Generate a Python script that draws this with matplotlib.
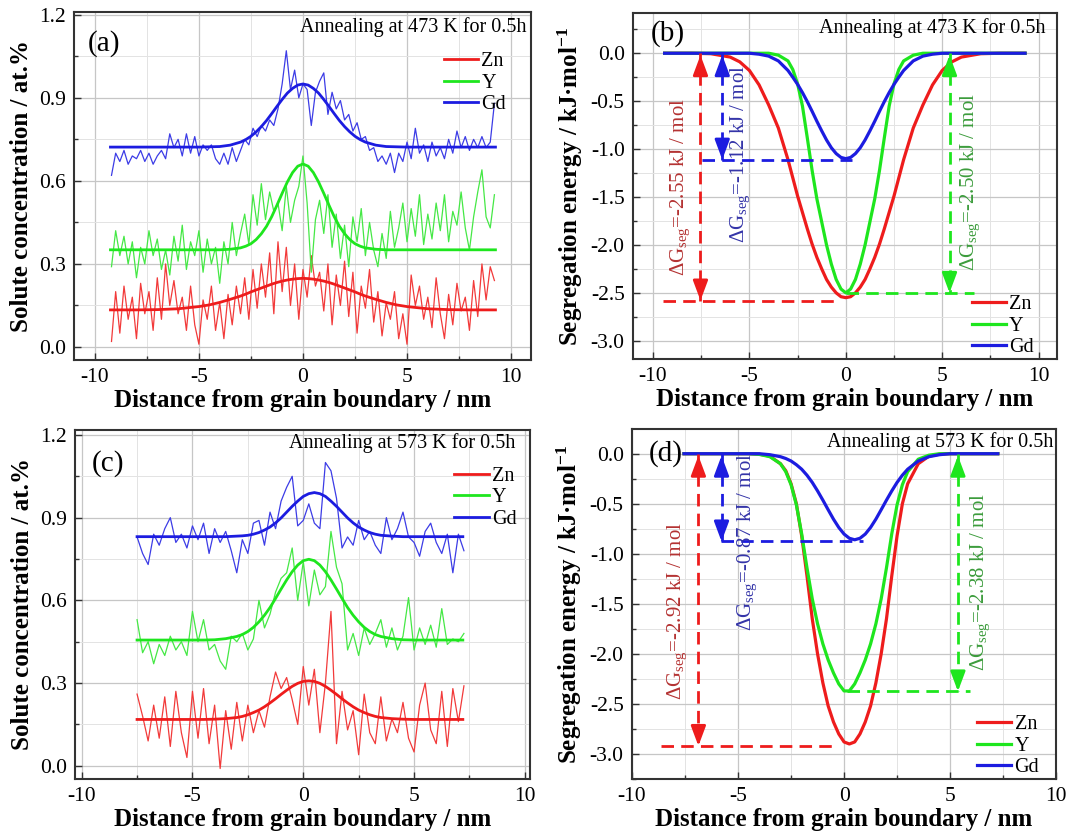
import numpy as np
import matplotlib
matplotlib.use('Agg')
import matplotlib.pyplot as plt
from matplotlib.ticker import MultipleLocator

plt.rcParams['font.family'] = ['Liberation Serif', 'DejaVu Serif']
plt.rcParams['mathtext.fontset'] = 'custom'
plt.rcParams['mathtext.rm'] = 'Liberation Serif'
plt.rcParams['mathtext.it'] = 'Liberation Serif:italic'
plt.rcParams['mathtext.bf'] = 'Liberation Serif:bold'
plt.rcParams['axes.unicode_minus'] = False

elements = ['Zn', 'Y', 'Gd']

# ---- (a) line-scan concentrations, 473 K ----
x_a = np.round(np.arange(-9.2, 9.21, 0.2), 2)
zn_a = [0.02, 0.20, 0.05, 0.22, 0.10, 0.18, 0.03, 0.23, 0.12, 0.20,
        0.06, 0.25, 0.10, 0.30, 0.15, 0.24, 0.12, 0.18, 0.06, 0.22,
        0.08, 0.01, 0.17, 0.10, 0.22, 0.06, 0.16, 0.03, 0.19, 0.08,
        0.22, 0.12, 0.25, 0.10, 0.28, 0.14, 0.30, 0.18, 0.34, 0.12,
        0.38, 0.20, 0.36, 0.15, 0.30, 0.10, 0.28, 0.18, 0.33, 0.22,
        0.27, 0.13, 0.30, 0.08, 0.26, 0.15, 0.31, 0.11, 0.27, 0.05,
        0.22, 0.14, 0.28, 0.09, 0.20, 0.04, 0.16, 0.10, 0.20, 0.03,
        0.12, 0.01, 0.26, 0.15, 0.22, 0.10, 0.18, 0.07, 0.25, 0.12,
        0.03, 0.19, 0.08, 0.23, 0.13, 0.18, 0.06, 0.24, 0.11, 0.30,
        0.17, 0.29, 0.24]
y_a = [0.29, 0.42, 0.33, 0.40, 0.30, 0.38, 0.25, 0.36, 0.30, 0.42,
       0.33, 0.39, 0.28, 0.35, 0.26, 0.40, 0.31, 0.44, 0.28, 0.38,
       0.33, 0.42, 0.27, 0.39, 0.30, 0.36, 0.23, 0.38, 0.30, 0.45,
       0.33, 0.41, 0.48, 0.37, 0.55, 0.44, 0.59, 0.46, 0.56, 0.49,
       0.52, 0.42, 0.58, 0.45, 0.53, 0.58, 0.69, 0.52, 0.27, 0.46,
       0.53, 0.41, 0.55, 0.36, 0.48, 0.32, 0.44, 0.29, 0.47, 0.38,
       0.50, 0.33, 0.45, 0.35, 0.29, 0.41, 0.32, 0.49, 0.36, 0.43,
       0.52, 0.38, 0.50, 0.40, 0.55, 0.37, 0.48, 0.39, 0.52, 0.42,
       0.55, 0.38, 0.49, 0.44, 0.56, 0.43, 0.35, 0.47, 0.56, 0.64,
       0.47, 0.43, 0.55]
gd_a = [0.62, 0.70, 0.67, 0.71, 0.66, 0.69, 0.68, 0.71, 0.67, 0.70,
        0.66, 0.69, 0.71, 0.68, 0.77, 0.72, 0.75, 0.69, 0.77, 0.70,
        0.76, 0.69, 0.73, 0.71, 0.73, 0.68, 0.66, 0.70, 0.66, 0.72,
        0.67, 0.71, 0.75, 0.73, 0.79, 0.76, 0.80, 0.78, 0.82, 0.80,
        0.86, 0.95, 1.07, 0.93, 1.00, 0.90, 0.95, 0.93, 0.80, 0.92,
        0.96, 0.99, 0.84, 0.92, 0.86, 0.89, 0.82, 0.84, 0.78, 0.81,
        0.75, 0.76, 0.71, 0.72, 0.67, 0.69, 0.66, 0.70, 0.63, 0.70,
        0.67, 0.74, 0.68, 0.79, 0.70, 0.73, 0.67, 0.74, 0.69, 0.72,
        0.68, 0.75, 0.70, 0.78, 0.72, 0.76, 0.71, 0.75, 0.72, 0.76,
        0.72, 0.74, 0.88]

fit_x_a = [-9.25, -8, -7, -6, -5, -4.5, -4, -3.5, -3, -2.75, -2.5, -2.25, -2, -1.75,
           -1.5, -1.25, -1, -0.75, -0.5, -0.25, 0, 0.25, 0.5, 0.75, 1, 1.25, 1.5,
           1.75, 2, 2.25, 2.5, 2.75, 3, 3.5, 4, 4.5, 5, 6, 7, 8, 9.25]
zn_fit_a = [0.134, 0.134, 0.135, 0.138, 0.146, 0.152, 0.161, 0.172, 0.184, 0.191, 0.199,
            0.206, 0.213, 0.220, 0.227, 0.233, 0.238, 0.242, 0.245, 0.247, 0.248,
            0.247, 0.245, 0.242, 0.238, 0.233, 0.227, 0.220, 0.213, 0.206, 0.199,
            0.191, 0.184, 0.172, 0.161, 0.152, 0.146, 0.138, 0.135, 0.134, 0.134]
y_fit_a = [0.351, 0.351, 0.351, 0.351, 0.351, 0.351, 0.351, 0.353, 0.358, 0.364, 0.373,
           0.388, 0.409, 0.436, 0.471, 0.512, 0.555, 0.596, 0.630, 0.653, 0.661,
           0.653, 0.630, 0.596, 0.555, 0.512, 0.471, 0.436, 0.409, 0.388, 0.373,
           0.364, 0.358, 0.353, 0.351, 0.351, 0.351, 0.351, 0.351, 0.351, 0.351]
gd_fit_a = [0.722, 0.722, 0.722, 0.722, 0.722, 0.723, 0.724, 0.729, 0.740, 0.749, 0.761,
            0.777, 0.796, 0.818, 0.843, 0.869, 0.894, 0.917, 0.934, 0.946, 0.950,
            0.946, 0.934, 0.917, 0.894, 0.869, 0.843, 0.818, 0.796, 0.777, 0.761,
            0.749, 0.740, 0.729, 0.724, 0.723, 0.722, 0.722, 0.722, 0.722, 0.722]

# ---- (c) line-scan concentrations, 573 K ----
x_c = np.round(np.arange(-7.5, 7.26, 0.25), 2)
zn_c = [0.26, 0.18, 0.09, 0.22, 0.10, 0.25, 0.07, 0.27, 0.12, 0.03,
        0.27, 0.10, 0.28, 0.08, 0.22, -0.01, 0.20, 0.06, 0.23, 0.09,
        0.22, 0.12, 0.20, 0.14, 0.25, 0.34, 0.28, 0.32, 0.24, 0.15,
        0.36, 0.22, 0.35, 0.12, 0.30, 0.56, 0.08, 0.27, 0.13, 0.20,
        0.04, 0.26, 0.12, 0.08, 0.25, 0.09, 0.17, 0.12, 0.23, 0.10,
        0.05, 0.22, 0.30, 0.13, 0.08, 0.27, 0.07, 0.28, 0.16, 0.29]
y_c = [0.53, 0.41, 0.45, 0.37, 0.44, 0.40, 0.47, 0.42, 0.45, 0.40,
       0.56, 0.45, 0.53, 0.42, 0.44, 0.38, 0.35, 0.47, 0.45, 0.48,
       0.42, 0.46, 0.60, 0.50, 0.55, 0.63, 0.68, 0.70, 0.79, 0.60,
       0.74, 0.58, 0.71, 0.62, 0.65, 0.85, 0.72, 0.66, 0.42, 0.48,
       0.40, 0.50, 0.44, 0.48, 0.53, 0.43, 0.50, 0.42, 0.47, 0.61,
       0.42, 0.50, 0.44, 0.51, 0.43, 0.57, 0.44, 0.46, 0.45, 0.48]
gd_c = [0.83, 0.77, 0.73, 0.84, 0.80, 0.86, 0.90, 0.81, 0.84, 0.79,
        0.87, 0.82, 0.88, 0.77, 0.86, 0.81, 0.85, 0.78, 0.70, 0.82,
        0.77, 0.88, 0.89, 0.80, 0.92, 0.86, 0.96, 1.01, 1.05, 0.87,
        0.89, 0.95, 0.88, 0.86, 1.10, 1.07, 0.97, 0.79, 0.83, 0.80,
        0.89, 0.82, 0.85, 0.80, 0.77, 0.90, 0.82, 0.86, 0.92, 0.83,
        0.81, 0.76, 0.85, 0.88, 0.81, 0.77, 0.84, 0.70, 0.84, 0.78]

fit_x_c = [-7.5, -6, -5, -4.5, -4, -3.5, -3, -2.75, -2.5, -2.25, -2, -1.75, -1.5, -1.25,
           -1, -0.75, -0.5, -0.25, 0, 0.25, 0.5, 0.75, 1, 1.25, 1.5, 1.75, 2, 2.25,
           2.5, 2.75, 3, 3.25, 3.5, 4, 4.5, 5, 6, 7.2]
zn_fit_c = [0.168, 0.168, 0.168, 0.168, 0.169, 0.171, 0.175, 0.179, 0.185, 0.193, 0.202,
            0.214, 0.228, 0.243, 0.259, 0.274, 0.288, 0.299, 0.306, 0.308, 0.306,
            0.299, 0.288, 0.274, 0.259, 0.243, 0.228, 0.214, 0.202, 0.193, 0.185,
            0.179, 0.175, 0.171, 0.169, 0.168, 0.168, 0.168]
y_fit_c = [0.456, 0.456, 0.456, 0.456, 0.457, 0.461, 0.469, 0.476, 0.487, 0.502, 0.522,
           0.546, 0.574, 0.607, 0.641, 0.674, 0.704, 0.728, 0.744, 0.749, 0.744,
           0.728, 0.704, 0.674, 0.641, 0.607, 0.574, 0.546, 0.522, 0.502, 0.487,
           0.476, 0.469, 0.461, 0.457, 0.456, 0.456, 0.456]
gd_fit_c = [0.831, 0.831, 0.831, 0.831, 0.831, 0.831, 0.833, 0.834, 0.836, 0.840, 0.846,
            0.855, 0.866, 0.881, 0.899, 0.920, 0.941, 0.960, 0.977, 0.987, 0.991,
            0.987, 0.977, 0.960, 0.941, 0.920, 0.899, 0.881, 0.866, 0.855, 0.846,
            0.840, 0.836, 0.833, 0.831, 0.831, 0.831, 0.831]

# ---- (b) segregation energy, 473 K ----
x_b = [-9.4, -8, -7, -6, -5.5, -5, -4.5, -4, -3.5, -3, -2.75, -2.5, -2.25, -2, -1.75,
       -1.5, -1.25, -1, -0.75, -0.5, -0.25, 0, 0.25, 0.5, 0.75, 1, 1.25, 1.5, 1.75,
       2, 2.25, 2.5, 2.75, 3, 3.5, 4, 4.5, 5, 5.5, 6, 7, 8, 9.3]
zn_b = [0, 0, -0.005, -0.04, -0.09, -0.18, -0.33, -0.54, -0.78, -1.11,
        -1.30, -1.49, -1.66, -1.83, -1.99, -2.13, -2.25, -2.36, -2.44, -2.50, -2.54,
        -2.55,
        -2.54, -2.50, -2.44, -2.36, -2.25, -2.13, -1.99, -1.83, -1.66, -1.49, -1.30,
        -1.11, -0.78, -0.54, -0.33, -0.18, -0.09, -0.04, -0.005, 0, 0]
y_b = [0, 0, 0, 0, 0, 0, 0, 0, -0.02, -0.08,
       -0.17, -0.32, -0.55, -0.88, -1.22, -1.52, -1.76, -2.00, -2.20, -2.36, -2.46,
       -2.50,
       -2.46, -2.36, -2.20, -2.00, -1.76, -1.52, -1.22, -0.88, -0.55, -0.32, -0.17,
       -0.08, -0.02, 0, 0, 0, 0, 0, 0, 0, 0]
gd_b = [0, 0, 0, 0, 0, 0, -0.01, -0.03, -0.08, -0.18,
        -0.25, -0.325, -0.41, -0.504, -0.605, -0.71, -0.81, -0.905, -0.986, -1.047, -1.087,
        -1.10,
        -1.087, -1.047, -0.986, -0.905, -0.81, -0.71, -0.605, -0.504, -0.41, -0.325, -0.25,
        -0.18, -0.08, -0.03, -0.01, 0, 0, 0, 0, 0, 0]

# ---- (d) segregation energy, 573 K ----
x_d = [-7.55, -6, -5, -4.5, -4, -3.5, -3, -2.75, -2.5, -2.25, -2, -1.75, -1.5, -1.25,
       -1, -0.75, -0.5, -0.25, 0, 0.25, 0.5, 0.75, 1, 1.25, 1.5, 1.75, 2, 2.25, 2.5,
       2.75, 3, 3.5, 4, 4.5, 5, 6, 7.25]
zn_d = [0, 0, 0, 0, -0.005, -0.025, -0.10, -0.17, -0.30, -0.50, -0.82, -1.22, -1.65,
        -2.00, -2.29, -2.52, -2.68, -2.80, -2.88, -2.90, -2.88, -2.80, -2.68, -2.52,
        -2.29, -2.00, -1.65, -1.22, -0.82, -0.50, -0.30, -0.10, -0.025, -0.005, 0, 0, 0]
y_d = [0, 0, 0, 0, -0.007, -0.03, -0.10, -0.18, -0.31, -0.51, -0.80, -1.14, -1.45,
       -1.70, -1.90, -2.06, -2.19, -2.30, -2.37, -2.37, -2.30, -2.19, -2.06, -1.90,
       -1.70, -1.45, -1.14, -0.80, -0.51, -0.31, -0.18, -0.055, -0.015, 0, 0, 0, 0]
gd_d = [0, 0, 0, 0, 0, -0.01, -0.03, -0.048, -0.073, -0.11, -0.155, -0.215, -0.287,
        -0.372, -0.464, -0.56, -0.654, -0.737, -0.803, -0.845, -0.86, -0.845, -0.803,
        -0.737, -0.654, -0.56, -0.464, -0.372, -0.287, -0.215, -0.155, -0.073, -0.03,
        -0.01, 0, 0, 0]

# segregation energies quoted on the plots (kJ/mol)
dg_b = [-2.55, -2.50, -1.12]
dg_d = [-2.92, -2.38, -0.87]

line_colors = ['#ee1c1c', '#1ee61e', '#1c1ce0']
noise_colors = ['#f23a3a', '#45e845', '#3c3ce6']
text_colors = ['#b43232', '#3c9c3c', '#3434a8']

fig = plt.figure(figsize=(10.7, 8.32), dpi=100)
ax_a = fig.add_axes([0.0692, 0.5673, 0.4271, 0.4183])
ax_b = fig.add_axes([0.5916, 0.5685, 0.3963, 0.4159])
ax_c = fig.add_axes([0.0701, 0.0637, 0.4252, 0.4195])
ax_d = fig.add_axes([0.5907, 0.0637, 0.3963, 0.4207])


def style(ax, xlim, ylim, ymaj, ylabel):
    ax.set_xlim(*xlim)
    ax.set_ylim(*ylim)
    ax.xaxis.set_major_locator(MultipleLocator(5))
    ax.xaxis.set_minor_locator(MultipleLocator(2.5))
    ax.yaxis.set_major_locator(MultipleLocator(ymaj))
    ax.yaxis.set_minor_locator(MultipleLocator(ymaj / 2))
    ax.set_axisbelow(True)
    ax.grid(which='major', color='#c6c6c6', lw=0.9)
    ax.grid(which='minor', color='#e3e3e3', lw=0.7)
    ax.tick_params(which='both', direction='in', labelsize=15.5, pad=6, width=1, color='#333333')
    ax.tick_params(which='major', length=5)
    ax.tick_params(which='minor', length=3)
    for sp in ax.spines.values():
        sp.set_linewidth(1.5)
        sp.set_color('#333333')
    ax.set_xlabel('Distance from grain boundary / nm', fontsize=18, fontweight='bold', labelpad=1)
    ax.set_ylabel(ylabel, fontsize=18, fontweight='bold', labelpad=4)


def add_legend(ax, loc, anchor):
    ax.legend(loc=loc, bbox_to_anchor=anchor, frameon=False, fontsize=14.5,
              handlelength=1.7, handletextpad=0.15, labelspacing=0.12,
              borderpad=0, borderaxespad=0)


def gseg_marker(ax, x, level, x0, x1, color, tcolor, value, tx, ty):
    dash = dict(color=color, lw=2, dashes=(4.5, 2.6))
    ax.plot([x, x], [0, level], **dash)
    ax.plot([x0, x1], [level, level], **dash)
    head = dict(arrowstyle='-|>,head_length=0.75,head_width=0.28', color=color,
                lw=2, shrinkA=0, shrinkB=0, mutation_scale=16)
    ax.annotate('', xy=(x, -0.02), xytext=(x, -0.14), arrowprops=head)
    ax.annotate('', xy=(x, level), xytext=(x, level + 0.12), arrowprops=head)
    ax.text(tx, ty, 'ΔG$_{\\rm seg}$=%.2f kJ / mol' % value, rotation=90,
            ha='center', va='center', fontsize=15, color=tcolor)


conc_label = 'Solute concentration / at.%'
energy_label = 'Segregation energy / kJ·mol$^{\\mathbf{-1}}$'

# (a)
style(ax_a, (-11, 10.96), (-0.047, 1.21), 0.3, conc_label)
for raw, fit, nc, lc, el in zip([zn_a, y_a, gd_a], [zn_fit_a, y_fit_a, gd_fit_a],
                                noise_colors, line_colors, elements):
    ax_a.plot(x_a, raw, color=nc, lw=0.9)
    ax_a.plot(fit_x_a, fit, color=lc, lw=2, label=el)
add_legend(ax_a, 'upper right', (0.945, 0.885))
ax_a.text(0.99, 0.985, 'Annealing at 473 K for 0.5h', transform=ax_a.transAxes,
          ha='right', va='top', fontsize=14.5)
ax_a.text(0.066, 0.908, '(a)', transform=ax_a.transAxes, ha='center', va='center', fontsize=21)

# (c)
style(ax_c, (-10.3, 10.23), (-0.048, 1.218), 0.3, conc_label)
for raw, fit, nc, lc, el in zip([zn_c, y_c, gd_c], [zn_fit_c, y_fit_c, gd_fit_c],
                                noise_colors, line_colors, elements):
    ax_c.plot(x_c, raw, color=nc, lw=0.9)
    ax_c.plot(fit_x_c, fit, color=lc, lw=2, label=el)
add_legend(ax_c, 'upper right', (0.97, 0.895))
ax_c.text(0.967, 0.99, 'Annealing at 573 K for 0.5h', transform=ax_c.transAxes,
          ha='right', va='top', fontsize=14.5)
ax_c.text(0.073, 0.903, '(c)', transform=ax_c.transAxes, ha='center', va='center', fontsize=21)

# (b)
style(ax_b, (-11.04, 10.96), (-3.19, 0.42), 0.5, energy_label)
for yy, lc, el in zip([zn_b, y_b, gd_b], line_colors, elements):
    ax_b.plot(x_b, yy, color=lc, lw=2.3, label=el)
gseg_marker(ax_b, -7.54, -2.58, -9.5, -0.45, line_colors[0], text_colors[0], dg_b[0], -8.6, -1.40)
gseg_marker(ax_b, -6.41, -1.11, -7.45, 0.3, line_colors[2], text_colors[2], dg_b[2], -5.5, -1.05)
gseg_marker(ax_b, 5.38, -2.50, 0.0, 6.65, line_colors[1], text_colors[1], dg_b[1], 6.47, -1.34)
add_legend(ax_b, 'lower right', (0.945, 0.005))
ax_b.text(0.972, 0.985, 'Annealing at 473 K for 0.5h', transform=ax_b.transAxes,
          ha='right', va='top', fontsize=14.5)
ax_b.text(0.083, 0.942, '(b)', transform=ax_b.transAxes, ha='center', va='center', fontsize=21)

# (d)
style(ax_d, (-10, 10), (-3.25, 0.247), 0.5, energy_label)
for yy, lc, el in zip([zn_d, y_d, gd_d], line_colors, elements):
    ax_d.plot(x_d, yy, color=lc, lw=2.3, label=el)
gseg_marker(ax_d, -6.87, -2.92, -8.65, -0.44, line_colors[0], text_colors[0], dg_d[0], -7.87, -1.57)
gseg_marker(ax_d, -5.78, -0.877, -5.8, 0.87, line_colors[2], text_colors[2], dg_d[2], -4.55, -0.88)
gseg_marker(ax_d, 5.37, -2.375, 0.15, 5.96, line_colors[1], text_colors[1], dg_d[1], 6.43, -1.28)
add_legend(ax_d, 'lower right', (0.96, 0.005))
ax_d.text(0.993, 0.99, 'Annealing at 573 K for 0.5h', transform=ax_d.transAxes,
          ha='right', va='top', fontsize=14.5)
ax_d.text(0.080, 0.931, '(d)', transform=ax_d.transAxes, ha='center', va='center', fontsize=21)

fig.savefig('out.png', dpi=100)
